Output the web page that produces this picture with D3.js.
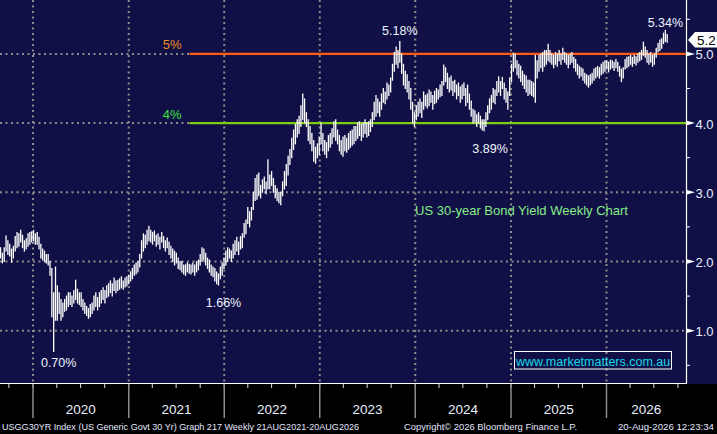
<!DOCTYPE html>
<html>
<head>
  <meta charset="utf-8">
  <script src="https://cdn.jsdelivr.net/npm/d3@7"></script>
  <style>
    body { margin: 0; background: #000; }
    svg { display: block; }
    text { font-family: "Liberation Sans", Arial, sans-serif; }
    .grid { stroke: #8c8c8c; stroke-width: 2; stroke-dasharray: 2,3.5; }
    .foot { font-family: "Liberation Sans", Arial, sans-serif; font-size: 9.5px; fill: #e4e8ff; }
  </style>
</head>
<body>
<div id="chart"></div>
<script>
// weekly bars, first bar is the week ending 30 Aug 2019
var firstWeek = "2019-08-30";

var weeklyHigh = [
  2.20,2.12,2.20,2.37,2.30,2.25,2.18,2.22,2.36,2.42,
  2.40,2.45,2.38,2.30,2.33,2.40,2.42,2.43,2.45,2.40,
  2.42,2.35,2.25,2.18,2.15,2.10,2.10,2.00,1.90,1.55,
  1.92,1.65,1.55,1.45,1.40,1.45,1.50,1.55,1.55,1.50,
  1.58,1.73,1.60,1.55,1.55,1.45,1.40,1.35,1.32,1.38,
  1.40,1.50,1.55,1.48,1.55,1.58,1.62,1.58,1.65,1.68,
  1.72,1.68,1.76,1.72,1.73,1.75,1.78,1.72,1.76,1.78,
  1.80,1.85,1.90,1.95,1.98,2.00,2.10,2.30,2.40,2.38,
  2.45,2.51,2.45,2.42,2.44,2.38,2.40,2.35,2.42,2.36,
  2.30,2.34,2.28,2.22,2.18,2.15,2.12,2.05,2.00,2.00,
  1.95,1.95,1.98,1.96,1.95,1.98,1.95,2.00,2.02,2.10,
  2.20,2.18,2.12,2.05,2.02,1.95,1.92,1.90,1.85,1.82,
  1.92,1.98,2.05,2.15,2.20,2.18,2.15,2.25,2.30,2.35,
  2.28,2.36,2.40,2.55,2.60,2.78,2.72,2.78,3.00,3.20,
  3.25,3.28,3.10,3.18,3.22,3.15,3.47,3.25,3.30,3.20,
  3.10,3.05,3.00,3.00,3.15,3.30,3.40,3.52,3.62,3.78,
  3.90,3.98,4.05,4.10,4.25,4.42,4.35,4.15,4.05,3.95,
  3.85,3.75,3.65,3.70,3.80,4.00,3.85,3.75,3.72,3.82,
  3.85,3.92,4.02,4.05,3.90,3.82,3.75,3.80,3.82,3.78,
  3.85,3.88,3.90,3.95,3.95,4.00,4.02,3.98,4.00,4.05,
  4.00,4.02,4.05,4.15,4.30,4.40,4.35,4.30,4.42,4.50,
  4.45,4.58,4.55,4.65,4.85,5.02,5.10,5.05,5.18,5.00,
  4.85,4.75,4.70,4.60,4.50,4.30,4.15,4.25,4.30,4.35,
  4.30,4.45,4.40,4.42,4.48,4.45,4.40,4.46,4.50,4.48,
  4.55,4.60,4.84,4.80,4.72,4.65,4.68,4.60,4.62,4.55,
  4.58,4.52,4.55,4.58,4.50,4.55,4.42,4.32,4.20,4.18,
  4.12,4.15,4.10,4.05,4.05,4.15,4.25,4.35,4.40,4.50,
  4.48,4.60,4.67,4.60,4.66,4.58,4.50,4.45,4.65,4.85,
  5.01,5.00,4.90,4.85,4.82,4.75,4.70,4.68,4.62,4.62,
  4.60,4.58,4.98,4.90,4.98,5.00,5.02,5.05,5.05,5.14,
  5.05,5.00,4.98,5.02,5.00,5.05,5.00,5.08,5.02,5.00,
  4.98,5.00,5.02,4.95,4.92,4.85,4.82,4.80,4.78,4.72,
  4.70,4.68,4.70,4.72,4.78,4.80,4.82,4.80,4.85,4.88,
  4.90,4.90,4.88,4.91,4.90,4.88,4.92,4.88,4.82,4.78,
  4.80,4.92,4.95,4.96,4.98,4.95,4.98,4.96,5.00,5.02,
  5.05,5.17,5.10,5.05,5.00,5.02,4.98,5.00,5.08,5.15,
  5.20,5.22,5.30,5.34,5.28
];

var weeklyLow = [
  2.05,1.98,2.00,2.15,2.10,2.08,1.99,2.05,2.15,2.20,
  2.22,2.28,2.20,2.15,2.18,2.22,2.25,2.28,2.30,2.25,
  2.25,2.18,2.05,2.02,2.00,1.98,1.95,1.80,1.20,0.70,
  1.15,1.15,1.25,1.15,1.20,1.28,1.30,1.35,1.38,1.35,
  1.40,1.45,1.40,1.38,1.35,1.30,1.25,1.22,1.18,1.20,
  1.25,1.30,1.35,1.30,1.35,1.40,1.45,1.40,1.48,1.50,
  1.55,1.50,1.58,1.55,1.58,1.60,1.62,1.60,1.63,1.65,
  1.68,1.72,1.75,1.80,1.82,1.85,1.92,2.05,2.15,2.20,
  2.25,2.30,2.28,2.25,2.30,2.22,2.25,2.18,2.28,2.20,
  2.15,2.20,2.10,2.05,2.00,1.95,1.98,1.90,1.88,1.85,
  1.82,1.80,1.85,1.83,1.82,1.85,1.80,1.85,1.88,1.95,
  2.00,2.02,1.95,1.90,1.85,1.80,1.78,1.72,1.68,1.66,
  1.75,1.80,1.90,1.95,2.00,2.05,2.00,2.05,2.10,2.15,
  2.10,2.18,2.20,2.35,2.40,2.55,2.50,2.60,2.75,2.88,
  2.90,2.95,2.92,3.00,3.05,2.98,3.05,3.05,3.10,3.00,
  2.92,2.88,2.85,2.82,2.95,3.05,3.10,3.25,3.40,3.50,
  3.62,3.70,3.80,3.85,3.95,4.05,4.00,3.95,3.75,3.70,
  3.60,3.45,3.42,3.50,3.55,3.70,3.60,3.55,3.50,3.60,
  3.65,3.70,3.80,3.75,3.70,3.60,3.55,3.52,3.60,3.58,
  3.62,3.65,3.68,3.70,3.75,3.78,3.82,3.75,3.80,3.85,
  3.80,3.82,3.88,3.95,4.05,4.10,4.15,4.10,4.20,4.30,
  4.28,4.35,4.40,4.45,4.62,4.75,4.85,4.80,4.88,4.72,
  4.55,4.50,4.45,4.35,4.20,4.00,3.95,4.05,4.10,4.15,
  4.08,4.20,4.25,4.22,4.25,4.30,4.20,4.28,4.30,4.35,
  4.38,4.40,4.55,4.60,4.50,4.45,4.48,4.40,4.45,4.35,
  4.40,4.30,4.35,4.40,4.25,4.30,4.20,4.10,4.00,4.02,
  3.95,4.00,3.93,3.90,3.89,3.95,4.05,4.15,4.20,4.30,
  4.28,4.40,4.45,4.40,4.50,4.35,4.30,4.20,4.40,4.60,
  4.75,4.80,4.70,4.65,4.60,4.55,4.50,4.45,4.40,4.42,
  4.40,4.38,4.30,4.65,4.75,4.80,4.75,4.82,4.85,4.90,
  4.88,4.85,4.80,4.85,4.82,4.90,4.85,4.92,4.88,4.85,
  4.80,4.85,4.88,4.80,4.75,4.70,4.65,4.68,4.62,4.58,
  4.55,4.52,4.55,4.58,4.62,4.65,4.68,4.65,4.70,4.72,
  4.75,4.78,4.74,4.78,4.80,4.76,4.80,4.75,4.68,4.60,
  4.65,4.78,4.80,4.82,4.85,4.82,4.86,4.84,4.88,4.90,
  4.92,4.98,4.95,4.88,4.85,4.88,4.82,4.85,4.95,5.03,
  5.05,5.08,5.15,5.18,5.17
];

var yTicks = [1, 2, 3, 4, 5];
var yMinorTicks = [0.5, 1.5, 2.5, 3.5, 4.5, 5.5];
var years = [2020, 2021, 2022, 2023, 2024, 2025, 2026];

// horizontal levels drawn from the start of the 5y window
var levelStart = "2021-08-21";
var levelValues = [5, 4];
var levelLabels = ["5%", "4%"];

// turning points labelled on the chart (week index into the arrays)
var calloutText = ["0.70%", "1.66%", "5.18%", "3.89%", "5.34%"];
var calloutWeek = [29, 119, 218, 264, 363];

var lastPrice = "5.2";
var chartTitle = "US 30-year Bond Yield Weekly Chart";
var siteName = "www.marketmatters.com.au";
var footLeft = "USGG30YR Index (US Generic Govt 30 Yr) Graph 217 Weekly 21AUG2021-20AUG2026";
var footMid = "Copyright\u00a9 2026 Bloomberg Finance L.P.";
var footRight = "20-Aug-2026 12:23:34";

var W = 717, H = 434;
var plotR = 686, plotB = 384;
var parse = d3.timeParse("%Y-%m-%d");

var svg = d3.select("#chart").append("svg")
  .attr("width", W).attr("height", H);

svg.append("rect").attr("width", W).attr("height", H).attr("fill", "#000");
svg.append("rect").attr("width", W).attr("height", plotB).attr("fill", "#101046");

var x = d3.scaleTime()
  .domain([new Date(2020, 0, 1), new Date(2026, 0, 1)])
  .range([33, 606.5]);
var y = d3.scaleLinear().domain([1, 5]).range([330.7, 53.9]);

var start = parse(firstWeek);
var bars = weeklyHigh.map(function(h, i) {
  return { date: d3.timeDay.offset(start, 7 * i), hi: h, lo: weeklyLow[i] };
});

// grid
svg.selectAll(".hgrid").data(yTicks).enter().append("line")
  .attr("class", "grid")
  .attr("x1", 0).attr("x2", plotR)
  .attr("y1", function(d) { return y(d); }).attr("y2", function(d) { return y(d); });

var yearDates = years.map(function(d) { return new Date(d, 0, 1); });
svg.selectAll(".vgrid").data(yearDates).enter().append("line")
  .attr("class", "grid")
  .attr("x1", function(d) { return x(d); }).attr("x2", function(d) { return x(d); })
  .attr("y1", 0).attr("y2", plotB);

// 5% / 4% levels
var levelColors = ["#ff5a14", "#7fcc12"];
var labelColors = ["#f08a24", "#3ee03e"];
var lx = x(parse(levelStart));
levelValues.forEach(function(v, i) {
  svg.append("line")
    .attr("x1", lx).attr("x2", plotR)
    .attr("y1", y(v)).attr("y2", y(v))
    .attr("stroke", levelColors[i]).attr("stroke-width", 2.2);
  svg.append("text")
    .attr("x", lx - 8).attr("y", y(v) - 5 - (i == 1 ? -1 : 0))
    .attr("text-anchor", "end")
    .attr("fill", labelColors[i])
    .style("font-size", "13px")
    .text(levelLabels[i]);
});

// weekly high-low bars
svg.selectAll(".bar").data(bars).enter().append("line")
  .attr("x1", function(d) { return x(d.date); })
  .attr("x2", function(d) { return x(d.date); })
  .attr("y1", function(d) { return y(d.lo) + 0.5; })
  .attr("y2", function(d) { return y(d.hi) - 0.5; })
  .attr("stroke", "#fff").attr("stroke-width", 1.3);

// callouts
var calloutDx = [5, 5, 0, 6, 0];
var calloutDy = [15.5, 22, -6, 22, -3.5];
calloutText.forEach(function(t, i) {
  var b = bars[calloutWeek[i]];
  var v = calloutDy[i] > 0 ? b.lo : b.hi;
  svg.append("text")
    .attr("x", x(b.date) + calloutDx[i])
    .attr("y", y(v) + calloutDy[i])
    .attr("text-anchor", "middle")
    .attr("fill", "#eef4ff")
    .style("font-size", "12.5px")
    .text(t);
});

svg.append("text")
  .attr("x", 415).attr("y", 215)
  .attr("fill", "#86ec86")
  .style("font-size", "13px")
  .text(chartTitle);

// plot frame
svg.append("line").attr("x1", 0).attr("x2", plotR + 0.5)
  .attr("y1", plotB - 0.5).attr("y2", plotB - 0.5)
  .attr("stroke", "#fff").attr("stroke-width", 1);
svg.append("line").attr("x1", plotR + 0.5).attr("x2", plotR + 0.5)
  .attr("y1", 0).attr("y2", plotB)
  .attr("stroke", "#fff").attr("stroke-width", 1.2);

// right axis
var ax = svg.append("g");
yMinorTicks.forEach(function(v) {
  ax.append("line").attr("x1", plotR).attr("x2", plotR + 4)
    .attr("y1", y(v)).attr("y2", y(v))
    .attr("stroke", "#fff").attr("stroke-width", 1);
});
yTicks.forEach(function(v) {
  var yy = y(v);
  ax.append("path")
    .attr("d", "M" + plotR + "," + (yy - 2.5) + "L" + (plotR + 9) + "," + yy + "L" + plotR + "," + (yy + 2.5) + "Z")
    .attr("fill", "#fff");
  ax.append("text")
    .attr("x", plotR + 9.5).attr("y", yy + 5.5)
    .attr("fill", "#e8f0ff")
    .style("font-size", "13px")
    .text(d3.format(".1f")(v));
});

// last price flag
var py = y(+lastPrice);
svg.append("path")
  .attr("d", "M688," + py + "L695," + (py - 8) + "L717," + (py - 8) + "L717," + (py + 7.5) + "L695," + (py + 7.5) + "Z")
  .attr("fill", "#fff");
svg.append("text")
  .attr("x", 697).attr("y", py + 5)
  .attr("fill", "#000")
  .style("font-size", "13.5px")
  .text(lastPrice);

// bottom axis
var quarters = d3.timeMonth.every(3).range(x.invert(0), x.invert(plotR));
svg.selectAll(".qt").data(quarters).enter().append("line")
  .attr("x1", function(d) { return x(d); }).attr("x2", function(d) { return x(d); })
  .attr("y1", plotB).attr("y2", plotB + 4)
  .attr("stroke", "#ddd").attr("stroke-width", 1);
svg.selectAll(".ysep").data(yearDates).enter().append("line")
  .attr("x1", function(d) { return x(d); }).attr("x2", function(d) { return x(d); })
  .attr("y1", plotB).attr("y2", 418)
  .attr("stroke", "#8c8c8c").attr("stroke-width", 1.5);
svg.selectAll(".ylab").data(years).enter().append("text")
  .attr("x", function(d) {
    var a = x(new Date(d, 0, 1)), b = Math.min(x(new Date(d + 1, 0, 1)), plotR);
    return (a + b) / 2;
  })
  .attr("y", 414)
  .attr("text-anchor", "middle")
  .attr("fill", "#e8f0ff")
  .style("font-size", "13.5px")
  .text(function(d) { return d; });

// watermark
svg.append("rect")
  .attr("x", 514.5).attr("y", 351.5).attr("width", 157).attr("height", 17.5)
  .attr("fill", "none").attr("stroke", "#fff").attr("stroke-width", 1);
svg.append("text")
  .attr("x", 516).attr("y", 365.5)
  .attr("fill", "#14d8e6")
  .style("font-size", "12.5px")
  .text(siteName);

// footer
svg.append("text").attr("class", "foot").attr("x", 2).attr("y", 430)
  .attr("textLength", 357).attr("lengthAdjust", "spacingAndGlyphs").text(footLeft);
svg.append("text").attr("class", "foot").attr("x", 404).attr("y", 430)
  .attr("textLength", 173).attr("lengthAdjust", "spacingAndGlyphs").text(footMid);
svg.append("text").attr("class", "foot").attr("x", 618).attr("y", 430)
  .attr("textLength", 96).attr("lengthAdjust", "spacingAndGlyphs").text(footRight);
</script>
</body>
</html>
